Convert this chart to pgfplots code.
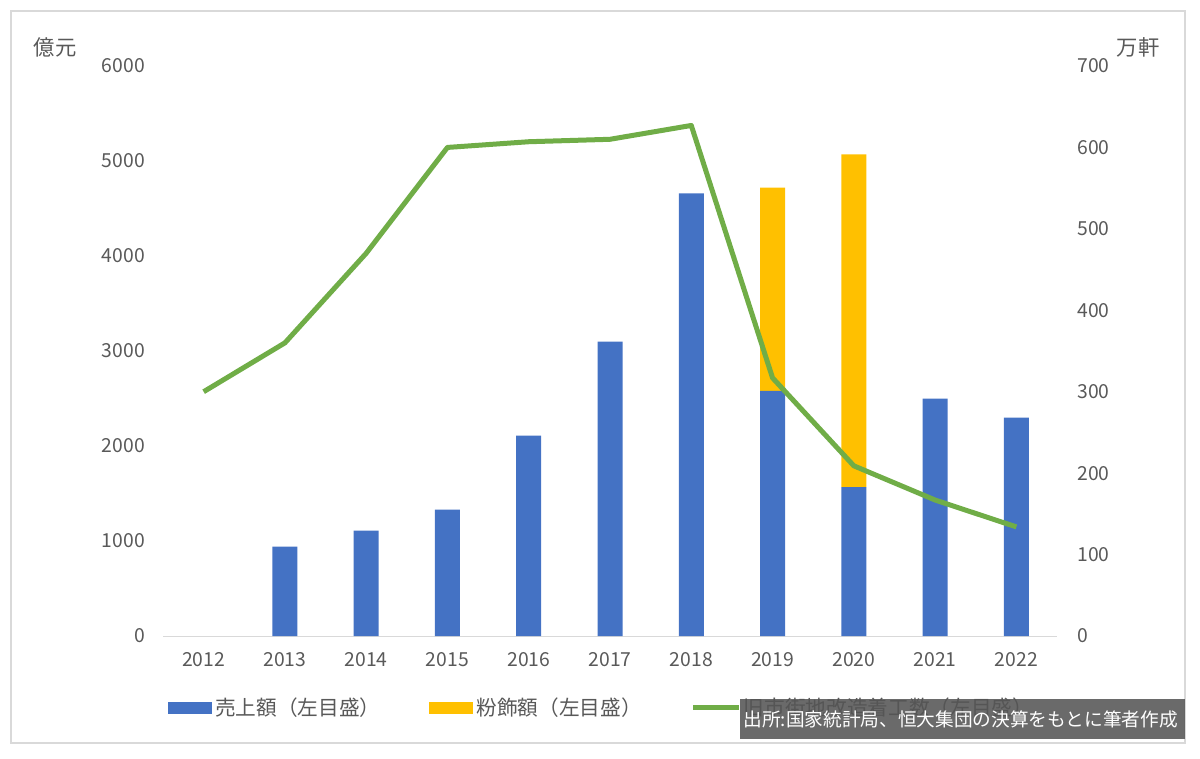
\documentclass[border=0pt]{standalone}
\usepackage{pgfplots}
\pgfplotsset{compat=1.18}
\usepackage{fontspec}
\setmainfont{Noto Sans CJK JP}
\definecolor{cblue}{HTML}{4472C4}
\definecolor{cyellow}{HTML}{FFC000}
\definecolor{cgreen}{HTML}{70AD47}
\definecolor{tgray}{HTML}{595959}
\definecolor{lgray}{HTML}{D9D9D9}
\definecolor{boxgray}{HTML}{555555}
\begin{document}
\begin{tikzpicture}
\path[use as bounding box] (0pt,0pt) rectangle (900pt,568.5pt);
\draw[lgray, line width=1pt] (8.25pt,11.25pt) rectangle (888.75pt,560.25pt);
\begin{axis}[
  at={(122.25pt,91.5pt)}, anchor=south west,
  scale only axis, width=670.5pt, height=427.5pt,
  xmin=-0.5, xmax=10.5, ymin=0, ymax=6000,
  ybar stacked, bar width=18.75pt,
  xtick={0,...,10},
  xticklabels={2012,2013,2014,2015,2016,2017,2018,2019,2020,2021,2022},
  ytick={0,1000,...,6000},
  axis line style={draw=none}, tick style={draw=none},
  tick label style={font=\fontsize{14.5}{16}\selectfont, text=tgray},
  /pgf/number format/assume math mode=true,
  /pgf/number format/1000 sep={},
  yticklabel style={anchor=east, inner sep=0pt, xshift=-13.5pt},
  xticklabel style={anchor=north, inner sep=0pt, yshift=-12pt},
  clip=false,
  legend style={at={(0.0056,-0.1263)}, anchor=west, draw=none, fill=none,
    inner sep=0pt, font=\fontsize{15.5}{17}\selectfont, text=tgray,
    legend columns=3, nodes={inner sep=2.2pt},
    /tikz/every even column/.append style={column sep=34.5pt}},
  legend cell align=left,
]
\addplot[fill=cblue, draw=none,
  legend image code/.code={\fill[cblue] (0pt,-4.5pt) rectangle (33pt,4.5pt);}]
  coordinates {(0,0) (1,940) (2,1110) (3,1330) (4,2110) (5,3100) (6,4660) (7,2580) (8,1568) (9,2500) (10,2300)};
\addlegendentry{売上額（左目盛）}
\addplot[fill=cyellow, draw=none,
  legend image code/.code={\fill[cyellow] (0pt,-4.5pt) rectangle (33pt,4.5pt);}]
  coordinates {(0,0) (1,0) (2,0) (3,0) (4,0) (5,0) (6,0) (7,2140) (8,3502) (9,0) (10,0)};
\addlegendentry{粉飾額（左目盛）}
\addlegendimage{legend image code/.code={\draw[cgreen, line width=3.75pt] (0pt,0pt) -- (34pt,0pt);}}
\addlegendentry{旧市街地改造着工数（左目盛）}
\draw[lgray, line width=0.75pt] (rel axis cs:0,0) -- (rel axis cs:1,0);
\end{axis}
\begin{axis}[
  at={(122.25pt,91.5pt)}, anchor=south west,
  scale only axis, width=670.5pt, height=427.5pt,
  xmin=-0.5, xmax=10.5, ymin=0, ymax=700,
  hide x axis, axis y line*=right,
  ytick={0,100,...,700},
  axis line style={draw=none}, tick style={draw=none},
  tick label style={font=\fontsize{14.5}{16}\selectfont, text=tgray},
  /pgf/number format/assume math mode=true,
  yticklabel style={anchor=west, inner sep=0pt, xshift=15pt},
  clip=false,
]
\addplot[cgreen, line width=3.75pt, mark=none, line join=round]
  coordinates {(0,300) (1,360) (2,470) (3,600) (4,607) (5,610) (6,627) (7,317) (8,209) (9,167) (10,134)};
\end{axis}
\node[text=tgray, font=\fontsize{16}{18}\selectfont] at (41.25pt,533.25pt) {億元};
\node[text=tgray, font=\fontsize{16}{18}\selectfont] at (853.5pt,533.25pt) {万軒};
\fill[boxgray, opacity=0.88] (555pt,14.25pt) rectangle (888.75pt,44.25pt);
\node[text=white, anchor=west, inner sep=0pt, font=\fontsize{14}{16}\selectfont] at (557.5pt,29.25pt) {出所:国家統計局、恒大集団の決算をもとに筆者作成};
\end{tikzpicture}
\end{document}
